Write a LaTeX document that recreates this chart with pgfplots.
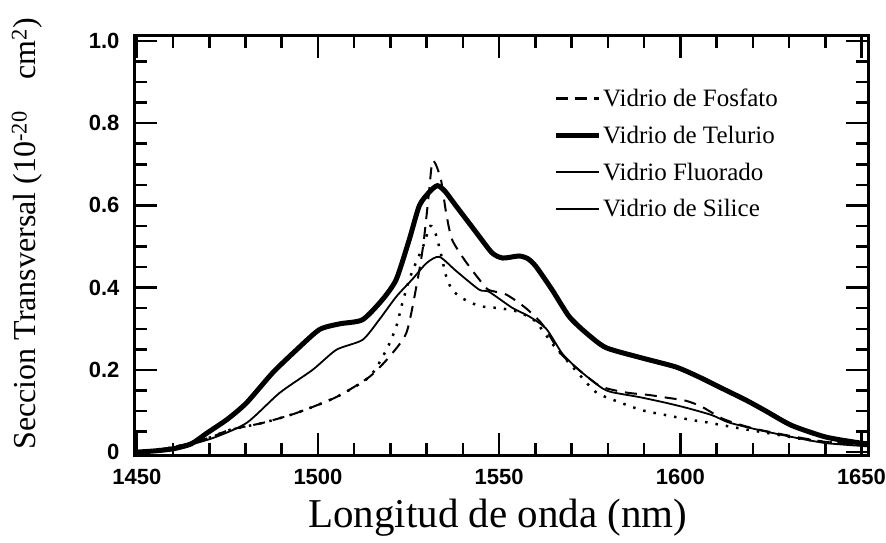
\documentclass[border=0pt]{standalone}
\usepackage{fontspec}
\setmainfont{Liberation Serif}
\setsansfont{Liberation Sans}
\usepackage{pgfplots}
\pgfplotsset{compat=1.18}
\begin{document}
\begin{tikzpicture}[x=1pt,y=1pt]
\path[use as bounding box] (-135,-88) rectangle (751,455);
\begin{axis}[
 at={(0,0)}, anchor=south west,
 scale only axis, width=733pt, height=419pt,
 xmin=1449.5, xmax=1651.8, ymin=-0.007, ymax=1.012,
 xtick={1450,1500,1550,1600,1650}, xticklabels={1450,1500,1550,1600,1650},
 minor x tick num=4,
 ytick={0,0.2,0.4,0.6,0.8,1.0}, yticklabels={0,0.2,0.4,0.6,0.8,1.0},
 minor y tick num=3,
 tick align=inside,
 major tick length=22pt, minor tick length=12pt,
 every tick/.style={line width=2.5pt, black},
 axis line style={line width=3pt},
 ticklabel style={font=\fontsize{22}{22}\selectfont\sffamily\bfseries},
 yticklabel style={xshift=-12pt},
 xticklabel style={yshift=-11pt},
 xlabel={Longitud de onda (nm)},
 ylabel={Seccion Transversal (10\textsuperscript{-20}\quad cm\textsuperscript{2})},
 xlabel style={font=\fontsize{41}{41}\selectfont, at={(rel axis cs:0.495,-0.150)}, anchor=center},
 ylabel style={font=\fontsize{32}{32}\selectfont, at={(rel axis cs:-0.1473,0.528)}, anchor=center},
 legend style={draw=none, fill=none, at={(rel axis cs:0.566,0.884)}, anchor=north west,
   font=\fontsize{25}{25}\selectfont, row sep=14pt},
 legend cell align=left,
 legend image code/.code={\draw[#1] (0pt,0pt) -- (43pt,0pt);},
]
\addlegendimage{black, line width=3pt, dash pattern=on 12pt off 7pt}
\addlegendentry{Vidrio de Fosfato}
\addlegendimage{black, line width=5pt}
\addlegendentry{Vidrio de Telurio}
\addlegendimage{black, line width=2pt}
\addlegendentry{Vidrio Fluorado}
\addlegendimage{black, line width=2pt}
\addlegendentry{Vidrio de Silice}

% Telurio (thick)
\addplot[black, line width=5pt, smooth, tension=0.4, forget plot] coordinates {
(1450,0.0) (1455,0.003) (1460,0.008) (1465,0.02) (1469.3,0.046) (1475,0.08)
(1480.3,0.12) (1487.5,0.193) (1494.1,0.249) (1500.4,0.298) (1506,0.312)
(1512.3,0.322) (1517.8,0.371) (1521.6,0.42) (1525.2,0.517) (1528,0.6)
(1531,0.635) (1533,0.648) (1535,0.635) (1538,0.6) (1543.7,0.534) (1548,0.485)
(1551,0.472) (1555.5,0.477) (1558,0.47) (1560.2,0.451) (1564.6,0.395)
(1569.3,0.33) (1574,0.29) (1579.5,0.254) (1589.4,0.229) (1598.8,0.207)
(1605.1,0.183) (1610.6,0.159) (1618,0.127) (1623.6,0.1) (1630.7,0.065)
(1640,0.037) (1648.3,0.024) (1651.8,0.02)
};
% Fosfato (dashed)
\addplot[black, line width=2pt, dash pattern=on 12pt off 8pt, smooth, tension=0.4, forget plot] coordinates {
(1450,0.0) (1460,0.012) (1470,0.035) (1475.6,0.054) (1484.7,0.071) (1494,0.095)
(1505.1,0.134) (1514.2,0.183) (1519.7,0.232) (1524.4,0.29) (1527.1,0.40)
(1529,0.5) (1530.5,0.62) (1531.5,0.705) (1532.5,0.7) (1534,0.66) (1535.4,0.58)
(1537,0.517) (1540.4,0.468) (1544.5,0.42) (1547,0.395) (1552,0.383)
(1557.4,0.35) (1562,0.31) (1567,0.24) (1572,0.2) (1578,0.16) (1585,0.145)
(1591.3,0.139) (1595,0.134) (1601.5,0.125) (1606,0.11) (1612,0.08)
(1620,0.058) (1630,0.04) (1640,0.025) (1651.8,0.016)
};
% Fluorado (thin)
\addplot[black, line width=1.8pt, smooth, tension=0.4, forget plot] coordinates {
(1450,0.0) (1460,0.008) (1470.9,0.034) (1480.3,0.071) (1489.4,0.144)
(1498.5,0.2) (1505.1,0.249) (1512.3,0.273) (1516.9,0.322) (1521.6,0.378)
(1526,0.42) (1530,0.46) (1533.5,0.475) (1538.2,0.44) (1544.5,0.395)
(1547.2,0.39) (1553.6,0.351) (1558.3,0.33) (1563,0.3) (1567.4,0.24)
(1572,0.2) (1578,0.158) (1581,0.146) (1588.6,0.134) (1596,0.12)
(1602,0.107) (1608.7,0.09) (1613.4,0.072) (1621.6,0.054) (1630.7,0.037)
(1640.1,0.022) (1651.8,0.014)
};
% Silice (dotted)
\addplot[black, line width=2.5pt, dash pattern=on 2.5pt off 8pt, smooth, tension=0.4, forget plot] coordinates {
(1450,0.0) (1460,0.012) (1470,0.035) (1475.6,0.054) (1484.7,0.071) (1494,0.095)
(1505.1,0.134) (1514.2,0.183) (1518.9,0.249) (1521.6,0.305) (1523.3,0.363)
(1525.2,0.42) (1527,0.46) (1529,0.5) (1531,0.55) (1532.5,0.53) (1534,0.48)
(1535.4,0.427) (1537,0.395) (1539.5,0.376) (1542.3,0.363) (1545.3,0.354)
(1550,0.35) (1555,0.342) (1560,0.318) (1565,0.26) (1571,0.2) (1576.7,0.146)
(1583,0.122) (1589.4,0.102) (1596,0.09) (1603.2,0.078) (1607,0.073)
(1615,0.06) (1625,0.045) (1635,0.03) (1651.8,0.014)
};
\end{axis}
\end{tikzpicture}
\end{document}
